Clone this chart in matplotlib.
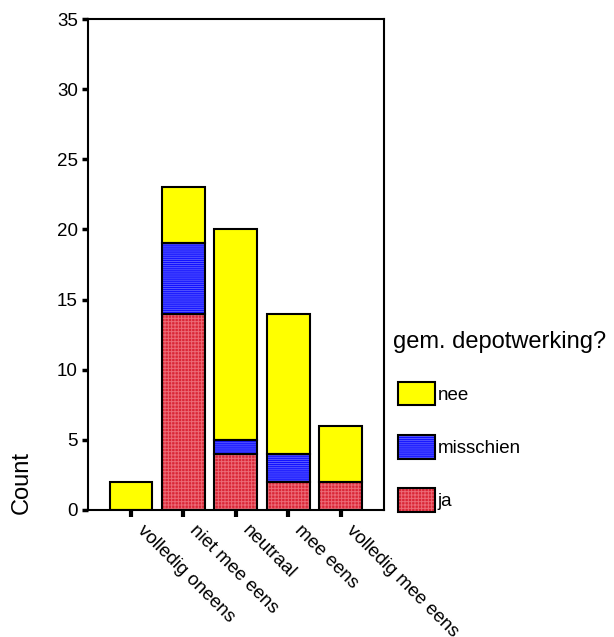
import numpy as np
import matplotlib
matplotlib.use("Agg")
import matplotlib.pyplot as plt
import matplotlib.transforms as mtransforms
from matplotlib.patches import Patch
from matplotlib.legend_handler import HandlerTuple

plt.rcParams['font.family'] = ['Liberation Sans', 'DejaVu Sans']
plt.rcParams['hatch.linewidth'] = 0.7

# data
categorieen = ["volledig oneens", "niet mee eens", "neutraal", "mee eens", "volledig mee eens"]
ja = [0, 14, 4, 2, 2]
misschien = [0, 5, 1, 2, 0]
nee = [2, 4, 15, 10, 4]

# stijl per reeks: (naam, waarden, kleur, hatch, hatch-kleur)
reeksen = [
    ("ja", ja, "#da2636", "+++++", "#ec6a76"),
    ("misschien", misschien, "#1010ff", "--------", "#5a5aff"),
    ("nee", nee, "#ffff00", None, "#ffff00"),
]

fig = plt.figure(figsize=(6.14, 6.37), dpi=100)
ax = fig.add_axes([87.5 / 614, 127 / 637, 296.5 / 614, 491 / 637])

x = np.arange(len(categorieen))
breedte = 0.82
onder = np.zeros(len(categorieen))
handles = {}
for naam, waarden, kleur, hatch, hkleur in reeksen:
    waarden = np.array(waarden, dtype=float)
    mask = waarden > 0
    ax.bar(x[mask], waarden[mask], breedte, bottom=onder[mask], color=kleur,
           hatch=hatch, edgecolor=hkleur, linewidth=0, zorder=2)
    ax.bar(x[mask], waarden[mask], breedte, bottom=onder[mask], fill=False,
           edgecolor="black", linewidth=1.5, zorder=3)
    handles[naam] = (Patch(facecolor=kleur, hatch=hatch, edgecolor=hkleur, linewidth=0),
                     Patch(fill=False, edgecolor="black", linewidth=1.5))
    onder = onder + waarden

ax.set_xlim(-0.83, 4.83)
ax.set_ylim(0, 35)
ax.set_yticks(np.arange(0, 36, 5))
ax.set_xticks(x)
ax.tick_params(axis="y", length=4, width=2.5, pad=3, labelsize=13.5)
ax.tick_params(axis="x", length=5, width=3, pad=8)
ax.set_xticklabels(categorieen, rotation=-45, ha="left", va="top",
                   rotation_mode="anchor", fontsize=13.5)
# labels iets naar rechts schuiven zoals in SPSS (na tick_params!)
verschuiving = mtransforms.ScaledTranslation(15 / 100, 6 / 100, fig.dpi_scale_trans)
for lbl in ax.get_xticklabels():
    lbl.set_transform(lbl.get_transform() + verschuiving)
for s in ax.spines.values():
    s.set_linewidth(1.5)

fig.text(22 / 614, 1 - 483 / 637, "Count", rotation=90, ha="center", va="center", fontsize=17)
fig.text(393 / 614, 1 - 342 / 637, "gem. depotwerking?", ha="left", va="center", fontsize=17)

volgorde = ["nee", "misschien", "ja"]
leg = fig.legend([handles[n] for n in volgorde], volgorde,
                 handler_map={tuple: HandlerTuple(ndivide=1)},
                 loc="upper left", bbox_to_anchor=(398 / 614, 1 - 382 / 637),
                 frameon=False, fontsize=13.5, borderpad=0, borderaxespad=0,
                 handlelength=1.97, handleheight=1.55, labelspacing=1.58,
                 handletextpad=0.15)

fig.savefig("out.png", dpi=100)
